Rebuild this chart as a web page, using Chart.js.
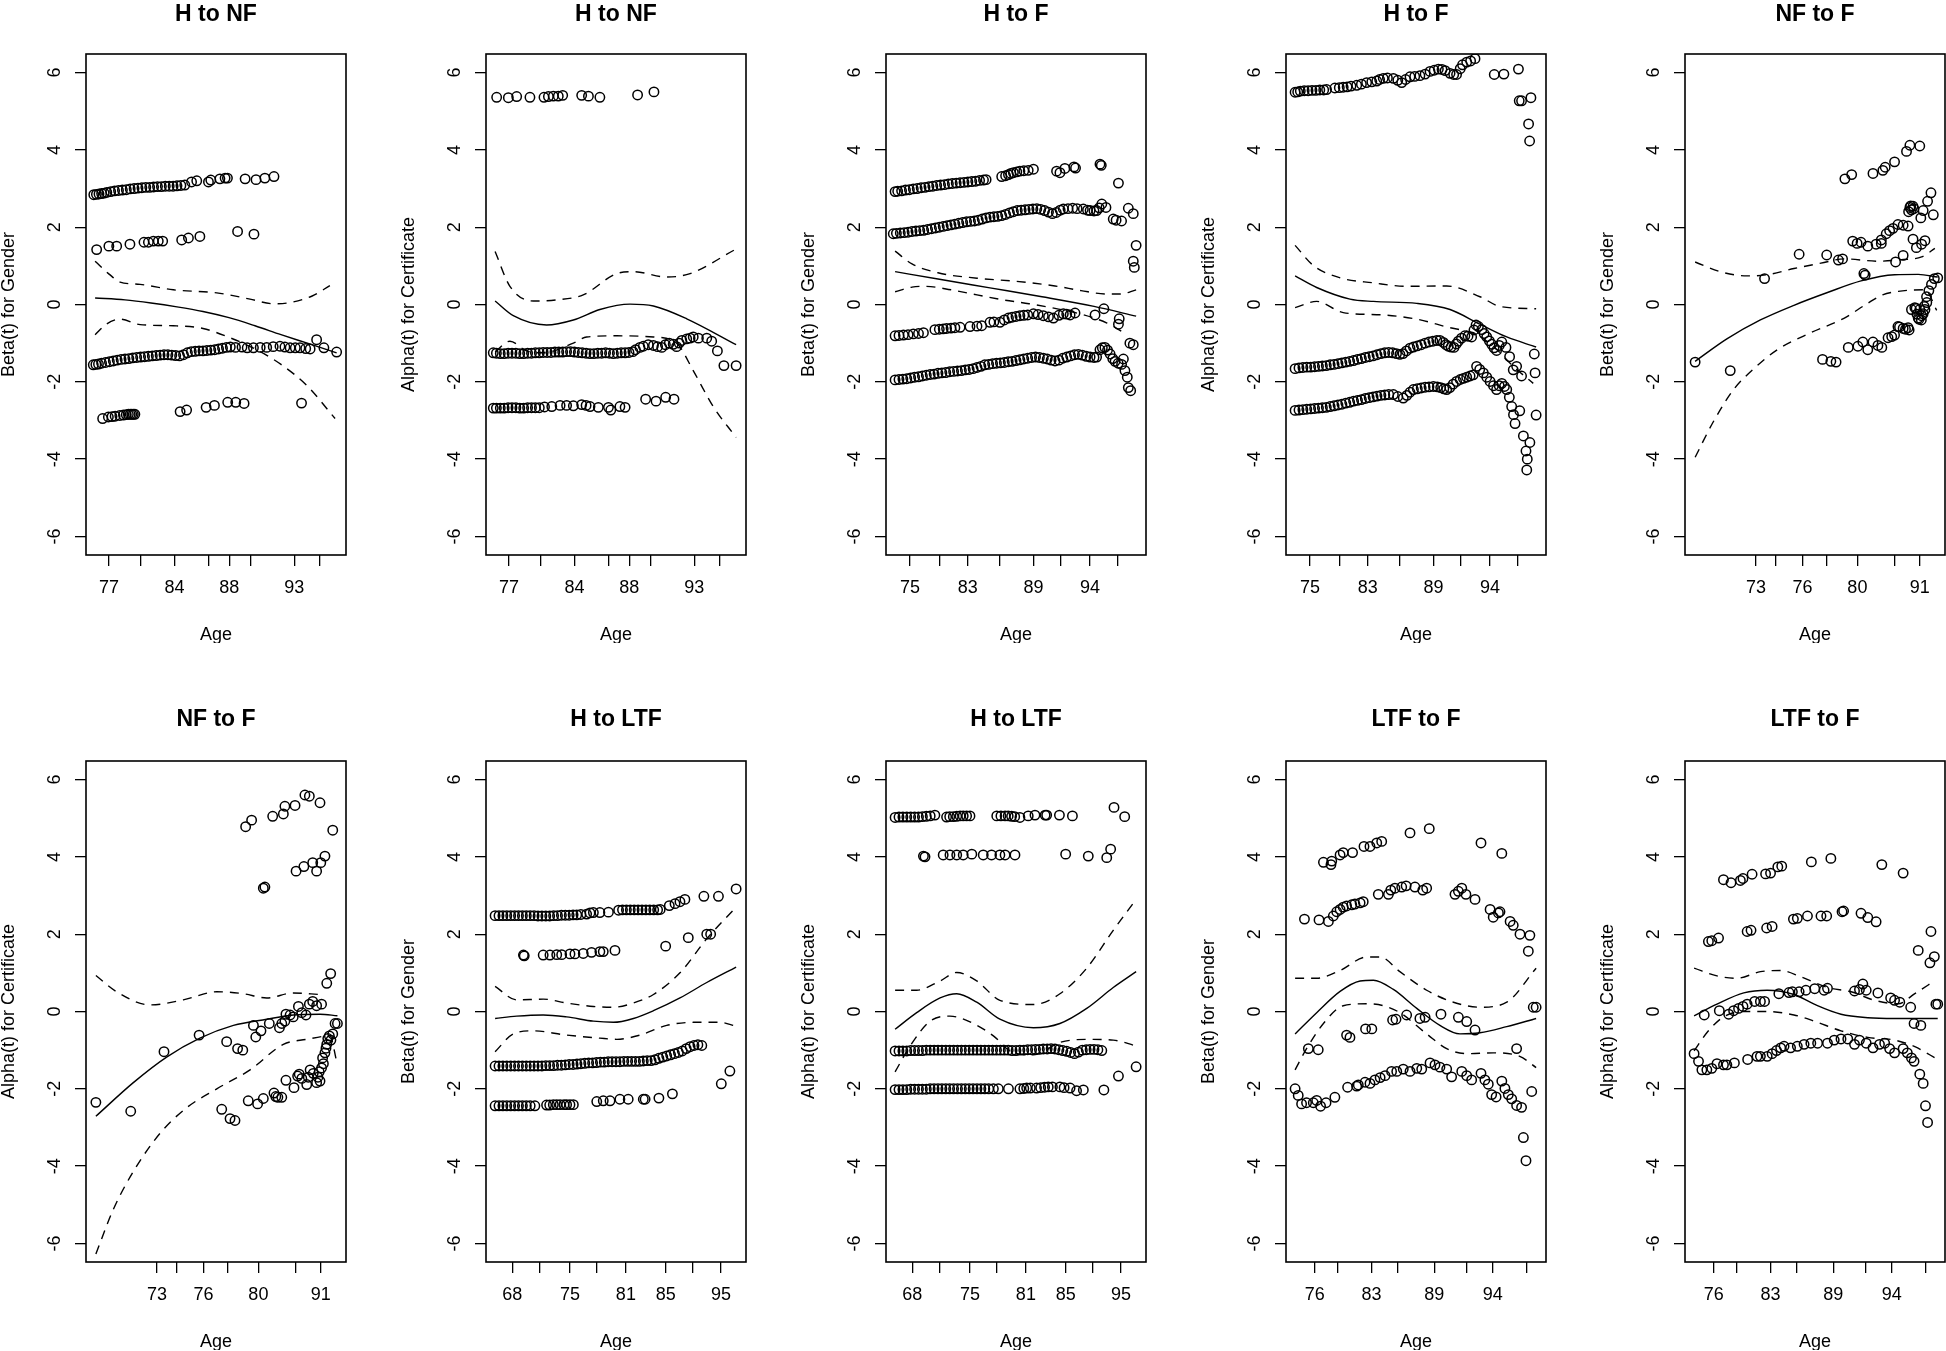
<!DOCTYPE html>
<html>
<head>
<meta charset="utf-8">
<script src="https://cdn.jsdelivr.net/npm/chart.js@4.4.1/dist/chart.umd.min.js"></script>
<style>
  html, body { margin: 0; padding: 0; background: #fff; }
  body { width: 1946px; height: 1351px; overflow: hidden; position: relative; }
  canvas { position: absolute; }
</style>
</head>
<body>
<script>
// x values are positions on the transformed time axis, 0..100 across the plot box
const yTicks = [-6, -4, -2, 0, 2, 4, 6];

const hnfTickPos = [8.85, 21.0, 34.0, 47.1, 55.1, 63.5, 80.1, 89.7];
const hnfTickLab = ["77", "", "84", "", "88", "", "93", ""];
const hfTickPos = [9.2, 20.8, 31.4, 43.8, 56.7, 67.3, 78.5, 89.1];
const hfTickLab = ["75", "", "83", "", "89", "", "94", ""];
const nffTickPos = [27.3, 35.0, 45.2, 54.6, 66.3, 80.5, 90.3];
const nffTickLab = ["73", "", "76", "", "80", "", "91"];
const hltfTickPos = [10.1, 20.8, 32.3, 42.6, 53.8, 69.1, 79.4, 90.4];
const hltfTickLab = ["68", "", "75", "", "81", "85", "", "95"];
const ltffTickPos = [11.1, 19.7, 32.9, 43.1, 57.0, 69.6, 79.5, 92.7];
const ltffTickLab = ["76", "", "83", "", "89", "", "94", ""];

// H to NF, gender
const hnfGenderPts = [
  [3.0,2.84],[4.0,2.85],[5.0,2.86],[6.0,2.87],[7.0,2.88],[8.0,2.9],[9.5,2.92],[11,2.94],[12.5,2.95],[14,2.96],
  [15.5,2.97],[17,2.99],[18.5,3.0],[20,3.01],[21.5,3.02],[23,3.03],[24.5,3.03],[26,3.04],[27.5,3.05],[29,3.05],
  [30.5,3.06],[32,3.06],[33.5,3.06],[35,3.07],[36.5,3.08],[38,3.09],[40.6,3.17],[42.6,3.2],[47.1,3.17],[48,3.22],
  [51.5,3.25],[53.5,3.27],[54.4,3.27],[61.2,3.25],[65.4,3.23],[68.8,3.27],[72.3,3.31],
  [4.1,1.42],[8.8,1.51],[11.8,1.51],[16.9,1.56],[22.3,1.61],[24,1.61],[25.9,1.64],[27.8,1.64],[29.5,1.64],
  [36.8,1.67],[39.4,1.72],[43.8,1.76],[58.3,1.89],[64.6,1.82],
  [2.8,-1.56],[3.8,-1.55],[4.8,-1.54],[6,-1.52],[7.5,-1.5],[9,-1.48],[10.5,-1.46],[12,-1.44],[13.5,-1.42],[15,-1.41],
  [16.5,-1.4],[18,-1.38],[19.5,-1.37],[21,-1.36],[22.5,-1.35],[24,-1.34],[25.5,-1.33],[27,-1.32],[28.5,-1.31],[30,-1.3],
  [31.5,-1.3],[33,-1.31],[34.5,-1.32],[36,-1.33],[37.5,-1.3],[39,-1.25],[40.5,-1.22],[42,-1.21],[43.5,-1.2],[45,-1.2],
  [46.5,-1.19],[48,-1.18],[49.5,-1.17],[51,-1.15],[52.5,-1.13],[54,-1.11],[55.5,-1.1],[57.5,-1.11],[60,-1.1],[62,-1.12],
  [64.4,-1.12],[67,-1.11],[69.5,-1.11],[72,-1.09],[74.6,-1.08],[76.5,-1.1],[78.5,-1.12],[80.5,-1.12],[82.3,-1.12],
  [84.5,-1.14],[86.2,-1.15],[88.7,-0.91],[91.5,-1.12],[96.4,-1.23],
  [6.4,-2.95],[8.6,-2.91],[10,-2.9],[11.2,-2.89],[13,-2.87],[14.4,-2.86],[15.5,-2.85],[16.3,-2.84],[17,-2.84],
  [17.6,-2.84],[18.2,-2.84],[18.8,-2.84],[36.2,-2.77],[38.7,-2.73],[46.2,-2.66],[49.4,-2.61],[54.5,-2.53],
  [57.6,-2.53],[60.8,-2.56],[82.9,-2.55]
];
const hnfGenderFit = [[3.5,0.17],[15,0.12],[25,0.04],[35,-0.06],[45,-0.18],[55,-0.34],[65,-0.55],[75,-0.78],[86,-1.02],[96.4,-1.25]];
const hnfGenderUp = [[3.5,1.12],[9,0.78],[13.1,0.58],[20.8,0.52],[33.6,0.38],[50.3,0.3],[63.1,0.14],[72,0.02],[78.5,0.05],[87,0.22],[93.8,0.49]];
const hnfGenderLo = [[3.5,-0.78],[8,-0.5],[13.1,-0.38],[20.8,-0.52],[33.6,-0.55],[45,-0.62],[55,-0.85],[65,-1.15],[75,-1.55],[85,-2.1],[95.8,-2.95]];

// H to NF, certificate
const hnfCertPts = [
  [4.1,5.36],[8.6,5.35],[11.8,5.38],[16.9,5.36],[22.3,5.36],[24,5.38],[25.9,5.39],[27.8,5.39],[29.5,5.41],
  [36.8,5.41],[39.4,5.39],[43.8,5.36],[58.3,5.42],[64.6,5.5],
  [2.8,-1.25],[4,-1.26],[5.5,-1.27],[7,-1.27],[8.5,-1.26],[10,-1.26],[11.5,-1.26],[13,-1.27],[14.5,-1.27],[16,-1.26],
  [17.5,-1.26],[19,-1.25],[20.5,-1.25],[22,-1.24],[23.5,-1.24],[25,-1.24],[26.5,-1.23],[28,-1.23],[29.5,-1.23],[31,-1.22],
  [32.5,-1.22],[34,-1.23],[35.5,-1.24],[37,-1.25],[38.5,-1.26],[40,-1.27],[41.5,-1.27],[43,-1.26],[44.5,-1.26],[46,-1.25],
  [47.5,-1.26],[49,-1.27],[50.5,-1.26],[52,-1.25],[53.5,-1.25],[55,-1.24],[56.5,-1.22],[57.5,-1.17],[59.2,-1.11],
  [60.5,-1.08],[62.4,-1.04],[64.4,-1.06],[66,-1.09],[67.6,-1.11],[69,-1.04],[70.5,-1.0],[72,-1.03],[73.3,-1.09],
  [74.3,-1.0],[75.3,-0.93],[77.2,-0.89],[78.5,-0.87],[79.7,-0.84],[81.7,-0.87],[84.9,-0.87],[86.8,-0.95],[89,-1.2],
  [91.5,-1.58],[96.2,-1.58],
  [2.8,-2.68],[4,-2.68],[5.5,-2.68],[7,-2.68],[8.5,-2.67],[10,-2.67],[11.5,-2.67],[13,-2.68],[14.5,-2.68],[16,-2.67],
  [17.5,-2.67],[19,-2.67],[20.5,-2.67],[22.5,-2.65],[25.3,-2.64],[28.5,-2.61],[31,-2.61],[33.6,-2.62],[36.8,-2.59],
  [38.5,-2.61],[40,-2.64],[43.2,-2.66],[47.1,-2.66],[48,-2.73],[51.5,-2.64],[53.5,-2.66],[61.4,-2.45],[65.4,-2.5],
  [69.1,-2.4],[72.3,-2.45]
];
const hnfCertFit = [[3.5,0.09],[10.5,-0.29],[23.3,-0.53],[33.6,-0.4],[43.8,-0.13],[55.4,0.01],[64.4,-0.04],[77.2,-0.37],[96.2,-1.04]];
const hnfCertUp = [[3.5,1.37],[9.2,0.47],[18.2,0.09],[27.2,0.12],[37.4,0.25],[50.3,0.8],[56.7,0.85],[69.5,0.71],[78.5,0.8],[95.8,1.42]];
const hnfCertLo = [[3.5,-1.22],[9.2,-0.95],[15.6,-1.2],[22,-1.25],[33.6,-1.0],[38.7,-0.84],[50.3,-0.81],[64.4,-0.84],[73.3,-1.0],[79.7,-1.71],[87.4,-2.64],[96.2,-3.44]];

// H to F, gender
const hfGenderPts = [
  [3.5,2.92],[4.5,2.93],[6,2.94],[7.5,2.96],[9,2.97],[10.5,2.99],[12,3.0],[13.5,3.02],[15,3.03],[16.5,3.05],[18,3.06],
  [19.5,3.08],[21,3.09],[22.5,3.1],[24,3.12],[25.5,3.13],[27,3.14],[28.5,3.15],[30,3.16],[31.5,3.17],[33,3.18],[34.5,3.19],
  [36,3.21],[37.5,3.22],[38.5,3.23],[44.5,3.31],[46,3.33],[47.1,3.36],[48,3.39],[49,3.41],[50.3,3.43],[51.5,3.45],[53,3.46],
  [54.7,3.47],[56.7,3.5],[65.6,3.45],[66.9,3.41],[68.8,3.52],[72.3,3.56],[72.9,3.53],[82.3,3.63],[82.8,3.6],[89.4,3.14],
  [93.2,2.49],[95.1,2.35],[96.2,1.53],[95.1,1.12],[95.5,0.96],
  [2.8,1.83],[4,1.84],[5.5,1.85],[7,1.86],[8.5,1.87],[10,1.89],[11.5,1.9],[13,1.91],[14.5,1.92],[16,1.94],[17.5,1.96],
  [19,1.98],[20.5,2.0],[22,2.02],[23.5,2.04],[25,2.06],[26.5,2.08],[28,2.1],[29.5,2.12],[31,2.14],[32.5,2.15],[34,2.16],
  [35.5,2.18],[37,2.21],[38.5,2.24],[40,2.26],[41.5,2.27],[43,2.28],[44.5,2.3],[46,2.33],[47.5,2.37],[49,2.4],[50.5,2.43],
  [52,2.44],[53.5,2.45],[55,2.46],[56.5,2.47],[58,2.48],[59.5,2.46],[61,2.43],[62.5,2.39],[64,2.35],[65.5,2.38],[67,2.44],
  [68.2,2.47],[70,2.48],[71.8,2.49],[73.5,2.48],[75.9,2.47],[77.5,2.44],[78.5,2.43],[80,2.42],[81,2.43],[82,2.5],[83,2.6],
  [84.6,2.51],[87.4,2.21],[88.5,2.18],[90.6,2.16],
  [3.5,-0.81],[5,-0.8],[6.7,-0.79],[8.5,-0.78],[10.5,-0.76],[12.5,-0.75],[14.4,-0.73],[18.8,-0.65],[20.5,-0.64],[22,-0.63],
  [23.3,-0.62],[25,-0.61],[26.5,-0.6],[28.5,-0.59],[32.3,-0.57],[35,-0.56],[36.8,-0.55],[40,-0.46],[41.5,-0.45],[43.8,-0.46],
  [45.5,-0.4],[47.1,-0.35],[48.5,-0.33],[50,-0.31],[51.5,-0.29],[53,-0.28],[54.5,-0.27],[56.7,-0.24],[58.5,-0.26],
  [60.5,-0.29],[62.5,-0.32],[64.4,-0.35],[66.5,-0.28],[68.2,-0.24],[69.5,-0.25],[70.8,-0.27],[72.7,-0.22],[80.4,-0.27],
  [83.8,-0.11],[89.7,-0.37],[89.4,-0.51],[93.8,-1.0],[95.1,-1.04],
  [3.5,-1.95],[5,-1.94],[6.5,-1.93],[8,-1.92],[9.5,-1.9],[11,-1.88],[12.5,-1.87],[14,-1.85],[15.5,-1.83],[17,-1.81],
  [18.5,-1.8],[20,-1.78],[21.5,-1.77],[23,-1.76],[24.5,-1.74],[26,-1.73],[27.5,-1.72],[29,-1.71],[30.5,-1.69],[32,-1.68],
  [33.5,-1.66],[35,-1.63],[36.5,-1.6],[38,-1.56],[39.5,-1.55],[41,-1.53],[42.5,-1.52],[44,-1.51],[45.5,-1.5],[47,-1.48],
  [48.5,-1.47],[50,-1.45],[51.5,-1.43],[53,-1.41],[54.5,-1.39],[56,-1.37],[57.5,-1.36],[59,-1.37],[60.5,-1.39],[62,-1.41],
  [63.5,-1.44],[65,-1.46],[66.5,-1.44],[68,-1.39],[69.5,-1.36],[71,-1.33],[72.5,-1.3],[74,-1.29],[75.5,-1.31],[77,-1.34],
  [78.5,-1.36],[80,-1.37],[81,-1.36],[82.3,-1.17],[83.2,-1.12],[84.2,-1.11],[85.2,-1.18],[86.2,-1.28],[87.2,-1.4],
  [88.1,-1.47],[89.3,-1.52],[90.6,-1.55],[91.3,-1.41],[91.9,-1.71],[92.8,-1.88],[93.2,-2.15],[94.1,-2.23]
];
const hfGenderFit = [[3.5,0.85],[20,0.66],[40,0.43],[60,0.2],[80,-0.05],[96.2,-0.3]];
const hfGenderUp = [[3.5,1.38],[10,1.05],[20,0.82],[35,0.68],[50,0.6],[65,0.48],[75,0.36],[85,0.27],[90,0.27],[96.2,0.38]];
const hfGenderLo = [[3.5,0.33],[10,0.45],[15,0.47],[25,0.38],[35,0.25],[45,0.12],[55,0.02],[65,-0.1],[75,-0.25],[85,-0.48],[92,-0.75]];

// H to F, certificate
const hfCertPts = [
  [3.5,5.49],[4.5,5.5],[5.5,5.52],[7,5.53],[8.5,5.53],[10,5.54],[11.5,5.54],[13,5.55],[14.5,5.55],[15.6,5.56],[18.8,5.6],
  [20.5,5.61],[22,5.62],[23.5,5.63],[25,5.65],[27.2,5.67],[29,5.7],[31,5.74],[33,5.76],[34.9,5.78],[36,5.82],[37.4,5.85],
  [39,5.86],[41.3,5.85],[43,5.8],[44.5,5.74],[46,5.82],[47.7,5.89],[49.5,5.9],[51.5,5.92],[53.5,5.96],[55.4,6.03],[57,6.06],
  [58.6,6.09],[60,6.08],[61.2,6.05],[63.1,5.98],[64.5,5.95],[65.6,5.95],[67,6.1],[67.9,6.2],[69.5,6.27],[71,6.3],[72.7,6.36],
  [80.1,5.95],[83.8,5.96],[89.4,6.09],[89.7,5.27],[90.6,5.27],[94.2,5.35],[93.3,4.67],[93.7,4.23],
  [3.5,-1.66],[5,-1.64],[6.5,-1.63],[8,-1.62],[9.5,-1.62],[11,-1.61],[12.5,-1.6],[14,-1.59],[15.5,-1.58],[17,-1.56],
  [18.5,-1.55],[20,-1.53],[21.5,-1.51],[23,-1.49],[24.5,-1.47],[26,-1.45],[27.5,-1.42],[29,-1.4],[30.5,-1.37],[32,-1.35],
  [33.5,-1.33],[35,-1.3],[36.5,-1.27],[38,-1.25],[39.5,-1.24],[41,-1.25],[42.5,-1.27],[43.8,-1.29],[45,-1.27],[46.3,-1.2],
  [47.7,-1.13],[49,-1.1],[50.5,-1.07],[52,-1.04],[53.5,-1.0],[55,-0.97],[56.5,-0.95],[58,-0.93],[59.2,-0.93],[60.5,-0.98],
  [61.5,-1.04],[62.4,-1.08],[63.5,-1.1],[64.6,-1.11],[65.5,-1.02],[66.3,-0.95],[67.5,-0.87],[68.8,-0.81],[70,-0.82],
  [71.4,-0.84],[72.3,-0.66],[73.1,-0.53],[74,-0.57],[75.3,-0.65],[76.2,-0.75],[77.2,-0.84],[78.2,-0.94],[79.1,-1.03],
  [80,-1.12],[81,-1.19],[82,-1.06],[83,-0.97],[84.6,-1.11],[86,-1.35],[87.4,-1.69],[88.7,-1.6],[90.6,-1.85],[95.8,-1.77],
  [95.5,-1.28],
  [3.5,-2.74],[5,-2.73],[6.5,-2.72],[8,-2.71],[9.5,-2.7],[11,-2.69],[12.5,-2.68],[14,-2.67],[15.5,-2.66],[17,-2.64],
  [18.5,-2.62],[20,-2.6],[21.5,-2.58],[23,-2.55],[24.5,-2.53],[26,-2.5],[27.5,-2.48],[29,-2.46],[30.5,-2.43],[32,-2.41],
  [33.5,-2.39],[35,-2.37],[36.5,-2.35],[38,-2.34],[39.5,-2.33],[41.3,-2.33],[43,-2.38],[45.1,-2.42],[46.5,-2.35],
  [47.7,-2.27],[49,-2.2],[50.5,-2.18],[52,-2.16],[53.5,-2.14],[55,-2.13],[56.7,-2.12],[58.2,-2.13],[59.5,-2.15],
  [60.7,-2.18],[61.8,-2.2],[63,-2.15],[64.3,-2.06],[65.6,-1.99],[67,-1.94],[68.2,-1.91],[69.5,-1.88],[70.8,-1.85],
  [72,-1.82],[73.3,-1.6],[74.5,-1.68],[75.9,-1.77],[77.2,-1.88],[78.5,-1.99],[79.8,-2.1],[81,-2.2],[82,-2.1],[83,-2.04],
  [84,-2.12],[84.9,-2.2],[85.9,-2.4],[86.8,-2.64],[87.5,-2.85],[88.1,-3.08],[89.9,-2.75],[91.3,-3.4],[92.3,-3.79],
  [92.6,-4.28],[92.8,-4.0],[93.8,-3.57],[96.2,-2.86]
];
const hfCertFit = [[3.5,0.74],[11.8,0.44],[24.6,0.14],[33.6,0.08],[50.3,0.03],[63.1,-0.13],[74.6,-0.51],[84.9,-0.84],[96.2,-1.1]];
const hfCertUp = [[3.5,1.53],[10.5,1.01],[20.8,0.69],[33.6,0.56],[46.4,0.47],[61.8,0.48],[74.6,0.2],[82.3,-0.05],[96.2,-0.11]];
const hfCertLo = [[3.5,-0.08],[11.8,0.08],[22,-0.21],[37.4,-0.27],[50.3,-0.38],[61.8,-0.58],[73.3,-0.78],[80,-1.1],[87.4,-1.6],[95.1,-2.04]];

// NF to F, gender
const nffGenderPts = [
  [3.9,-1.49],[17.4,-1.71],[30.6,0.67],[43.9,1.3],[52.9,-1.42],[54.5,1.28],[56.1,-1.47],[58.1,-1.49],[59,1.15],[60.6,1.18],
  [61.5,3.25],[62.8,-1.11],[64.1,3.36],[64.5,1.64],[66.2,1.58],[66.5,-1.08],[67.7,1.61],[68.4,-0.97],[68.8,0.8],[69.3,0.76],
  [70.3,1.51],[70.3,-1.17],[72.3,3.39],[72.3,-0.97],[73.5,1.56],[74.2,-1.06],[75.5,1.58],[75.5,1.67],[75.7,-1.11],[76.1,3.47],
  [77,3.55],[77.4,1.83],[78.1,-0.86],[78.7,1.91],[79.5,-0.83],[80,1.97],[80.6,3.69],[80.6,-0.79],[81,1.1],[81.9,2.07],
  [81.9,-0.57],[82.5,-0.58],[83.9,1.27],[83.9,2.05],[83.9,-0.62],[84.8,-0.64],[85.2,3.96],[85.8,2.03],[85.8,-0.6],[86.2,-0.66],
  [86,2.4],[86.5,4.12],[86.5,2.51],[86.8,2.55],[87.1,2.45],[87.1,-0.13],[87.7,2.54],[87.7,1.69],[88,2.48],[88.4,-0.08],
  [88.9,-0.1],[89,1.47],[89.2,-0.25],[89.7,-0.35],[90,-0.38],[90.3,4.1],[90.3,-0.13],[90.7,2.24],[90.9,-0.4],[91,1.56],
  [91,-0.29],[91.6,2.43],[91.6,-0.24],[92,-0.05],[92.3,1.65],[92.3,-0.13],[92.9,0.2],[93,0.05],[93.3,2.67],[93.8,0.36],
  [94.6,2.89],[94.8,0.52],[95.5,2.32],[95.9,0.67],[97.2,0.69]
];
const nffGenderFit = [[3.9,-1.47],[16.1,-0.89],[29,-0.4],[41.9,-0.02],[54.8,0.31],[67.7,0.61],[80.6,0.77],[89.7,0.78],[97.2,0.71]];
const nffGenderUp = [[3.9,1.1],[13.5,0.85],[23.9,0.74],[31.6,0.77],[41.9,0.93],[52.3,1.07],[61.3,1.18],[74.2,1.12],[83.2,1.16],[91,1.23],[96.1,1.45]];
const nffGenderLo = [[3.9,-3.95],[11,-3.02],[18.7,-2.2],[26.5,-1.66],[35.5,-1.17],[48.4,-0.73],[61.3,-0.35],[70,0.02],[76,0.25],[82,0.34],[92.3,0.38],[96.8,-0.15]];

// NF to F, certificate
const nffCertPts = [
  [3.8,-2.35],[17.2,-2.58],[30,-1.04],[43.5,-0.61],[52.2,-2.53],[54.1,-0.78],[55.4,-2.77],[57.3,-2.82],[58.3,-0.96],
  [60.3,-1.0],[61.4,4.78],[62.4,-2.31],[63.7,4.95],[64.4,-0.36],[65.3,-0.66],[66,-2.39],[67.3,-0.5],[68.2,3.19],[68.8,3.22],
  [68.2,-2.25],[70.5,-0.31],[71.8,5.05],[72.3,-2.11],[73,-2.2],[73.8,-2.22],[74.4,-0.42],[75.3,-2.22],[75.3,-0.31],
  [75.9,5.11],[76.5,5.31],[76.5,-0.25],[76.9,-0.07],[76.9,-1.78],[78.5,-0.09],[79.7,-0.14],[80,-1.97],[80.4,5.33],
  [80.8,3.63],[81.4,-1.67],[81.7,0.13],[82,-1.62],[83,-0.03],[83,-1.73],[83.8,3.75],[84.2,5.6],[84.6,-0.09],[84.9,-1.89],
  [85.5,-1.7],[85.9,5.57],[85.9,0.19],[86.2,-1.51],[87.2,3.85],[87.2,0.26],[87.4,-1.6],[88.7,3.63],[88.7,0.15],[88.7,-1.84],
  [89.2,-1.7],[89.7,-1.56],[90,5.4],[90,-1.8],[90.3,3.85],[90.6,0.19],[90.6,-1.46],[91,-1.2],[91.3,-1.35],[91.9,4.02],
  [91.9,-1.07],[92.3,-0.95],[92.6,0.73],[92.6,-0.85],[93,-0.7],[93.6,-0.63],[94.1,0.98],[94.2,-0.74],[94.9,4.69],
  [94.9,-0.58],[95.8,-0.31],[96.7,-0.31]
];
const nffCertFit = [[3.8,-2.71],[18.2,-1.84],[31,-1.18],[43.8,-0.69],[56.7,-0.36],[69.5,-0.2],[79.7,-0.09],[90,-0.07],[96.7,-0.11]];
const nffCertUp = [[3.8,0.93],[11.8,0.51],[24.6,0.17],[37.4,0.3],[50.3,0.51],[60.5,0.46],[69.5,0.35],[79.7,0.48],[90,0.44]];
const nffCertLo = [[3.8,-6.27],[10.5,-5.12],[18.2,-4.14],[28.5,-3.15],[38.7,-2.49],[50.3,-2.0],[63.1,-1.51],[75.9,-0.85],[84.9,-0.72],[93.8,-0.63],[96.4,-1.29]];

// H to LTF, gender
const hltfGenderPts = [
  [3.5,2.48],[5,2.48],[6.5,2.48],[8,2.48],[9.5,2.48],[11,2.48],[12.5,2.48],[14,2.48],[15.5,2.48],[17,2.48],[18.5,2.48],
  [20,2.47],[21.5,2.47],[23,2.47],[24.5,2.47],[26,2.48],[27.5,2.48],[29,2.49],[30.5,2.49],[32,2.49],[33.5,2.5],[34.9,2.5],
  [36.5,2.51],[38.7,2.52],[40,2.55],[41.3,2.56],[43.8,2.56],[47.1,2.57],[51,2.62],[52.5,2.63],[54,2.63],[55.5,2.63],
  [57,2.63],[58.5,2.63],[60,2.63],[61.5,2.63],[63,2.63],[64.5,2.63],[66,2.63],[67,2.64],[70.5,2.74],[72.7,2.79],[74.6,2.84],
  [76.5,2.9],[83.8,2.98],[89.4,2.98],[96.2,3.17],
  [14.4,1.46],[14.7,1.44],[22,1.46],[24.6,1.46],[27.2,1.47],[29.1,1.47],[32.3,1.49],[34.2,1.49],[37.4,1.5],[40.6,1.53],
  [43.8,1.55],[45.1,1.55],[49.6,1.58],[69.1,1.69],[77.8,1.91],[84.9,2.0],[86.4,2.0],
  [3.5,-1.41],[5,-1.41],[6.5,-1.41],[8,-1.41],[9.5,-1.41],[11,-1.41],[12.5,-1.41],[14,-1.41],[15.5,-1.41],[17,-1.41],
  [18.5,-1.41],[20,-1.41],[21.5,-1.41],[23,-1.4],[24.5,-1.4],[26,-1.4],[27.5,-1.39],[29,-1.39],[30.5,-1.38],[32,-1.37],
  [33.5,-1.37],[35,-1.36],[36.5,-1.35],[38,-1.34],[39.5,-1.33],[41,-1.33],[42.5,-1.32],[44,-1.31],[45.5,-1.31],[47,-1.3],
  [48.5,-1.3],[50,-1.3],[51.5,-1.3],[53,-1.29],[54.5,-1.29],[56,-1.29],[57.5,-1.29],[59,-1.29],[60.5,-1.28],[62,-1.27],
  [63.5,-1.27],[65,-1.25],[66.5,-1.21],[68,-1.18],[69.5,-1.15],[71,-1.12],[72.5,-1.09],[74,-1.06],[75.5,-1.02],[77,-0.96],
  [78.5,-0.91],[80,-0.88],[81.5,-0.86],[83,-0.88],
  [3.5,-2.44],[5,-2.44],[6.5,-2.44],[8,-2.44],[9.5,-2.44],[11,-2.44],[12.5,-2.44],[14,-2.44],[15.5,-2.44],[17,-2.44],
  [18.8,-2.44],[23.3,-2.42],[24.5,-2.42],[25.9,-2.41],[27.2,-2.41],[28.5,-2.41],[30,-2.41],[31,-2.41],[32.3,-2.41],
  [33.6,-2.41],[42.6,-2.33],[45.1,-2.31],[47.7,-2.31],[51.5,-2.27],[54.7,-2.27],[60.5,-2.27],[61.2,-2.27],[66.5,-2.24],
  [71.7,-2.13],[90.5,-1.87],[93.8,-1.54]
];
const hltfGenderFit = [[3.5,-0.18],[11.8,-0.12],[22,-0.09],[31,-0.14],[41.3,-0.25],[49,-0.28],[56.7,-0.18],[64.4,0.02],[74.6,0.35],[84.9,0.75],[96.2,1.15]];
const hltfGenderUp = [[3.5,0.65],[11.8,0.3],[22,0.32],[31,0.22],[41.3,0.13],[49,0.11],[56.7,0.22],[64.4,0.44],[74.6,1.0],[84.9,1.88],[96.2,2.7]];
const hltfGenderLo = [[3.5,-1.04],[10.5,-0.58],[18.2,-0.5],[31,-0.61],[43.8,-0.69],[50.3,-0.72],[59.2,-0.61],[69.5,-0.36],[79.7,-0.28],[89.9,-0.28],[96.2,-0.38]];

// H to LTF, certificate
const hltfCertPts = [
  [3.5,5.02],[5,5.03],[6.5,5.03],[8,5.03],[9.5,5.03],[11,5.03],[12.5,5.03],[14,5.04],[15.5,5.05],[17,5.06],[18.8,5.08],
  [23.3,5.03],[24.5,5.04],[25.9,5.04],[27.2,5.05],[28.5,5.06],[29.7,5.06],[31,5.06],[32.3,5.06],[42.6,5.06],[44.2,5.06],
  [45.8,5.06],[47,5.06],[48.3,5.05],[49.5,5.04],[51.5,5.02],[54.7,5.06],[57.3,5.08],[61.2,5.08],[61.8,5.08],[66.7,5.08],
  [71.7,5.06],[87.7,5.28],[91.8,5.04],
  [14.4,4.02],[15,4.0],[22,4.05],[24.6,4.05],[27.2,4.05],[29.7,4.05],[33,4.07],[37.4,4.05],[40.6,4.05],[43.8,4.05],
  [45.8,4.05],[49.6,4.05],[69.1,4.07],[77.8,4.02],[84.9,3.98],[86.4,4.2],
  [3.5,-1.02],[5,-1.02],[6.5,-1.02],[8,-1.02],[9.5,-1.01],[11,-1.01],[12.5,-1.01],[14,-1.01],[15.5,-1.0],[17,-1.0],
  [18.5,-1.0],[20,-1.0],[21.5,-1.0],[23,-1.0],[24.5,-1.0],[26,-1.0],[27.5,-1.0],[29,-1.0],[30.5,-1.0],[32,-1.0],[33.5,-1.0],
  [35,-1.0],[36.5,-1.0],[38,-1.0],[39.5,-1.0],[41,-1.0],[42.5,-1.0],[44,-1.0],[45.5,-1.0],[47,-1.0],[48.5,-1.01],[50,-1.01],
  [51.5,-1.0],[53,-1.0],[54.5,-0.99],[56,-0.99],[57.5,-0.98],[59,-0.98],[60.5,-0.97],[62,-0.97],[63.5,-0.96],[65,-0.97],
  [66.5,-0.99],[68,-1.01],[69.5,-1.03],[71,-1.06],[72.5,-1.09],[74,-1.05],[75.5,-1.0],[77,-0.99],[78.5,-0.98],[80,-0.98],
  [81.5,-0.99],[83,-1.01],
  [3.5,-2.02],[5,-2.02],[6.5,-2.02],[8,-2.02],[9.5,-2.01],[11,-2.01],[12.5,-2.01],[14,-2.01],[15.5,-2.01],[17,-2.0],
  [18.5,-2.0],[20,-2.0],[21.5,-2.0],[23,-2.0],[24.5,-2.0],[26,-2.0],[27.5,-2.0],[29,-2.0],[30.5,-2.0],[32,-2.0],[33.5,-2.0],
  [35,-2.0],[36.5,-2.0],[38,-2.0],[39.5,-2.0],[41.3,-2.0],[43.2,-2.0],[47.1,-2.0],[51.5,-2.0],[53,-1.99],[54.1,-1.98],
  [55.5,-1.98],[57.9,-1.98],[59.5,-1.97],[61,-1.96],[62.4,-1.95],[64,-1.95],[66.9,-1.95],[68.5,-1.97],[70.8,-1.98],
  [73.3,-2.05],[75.9,-2.03],[83.8,-2.03],[89.4,-1.67],[96.2,-1.43]
];
const hltfCertFit = [[3.5,-0.46],[11.8,-0.03],[20.8,0.35],[27.2,0.46],[34.9,0.24],[43.8,-0.2],[56.7,-0.42],[66.9,-0.31],[77.2,0.08],[87.4,0.62],[96.2,1.03]];
const hltfCertUp = [[3.5,0.55],[11.8,0.55],[20.8,0.79],[27.2,1.01],[34.9,0.79],[43.8,0.29],[56.7,0.18],[66.9,0.46],[77.2,1.12],[87.4,2.1],[96.2,2.9]];
const hltfCertLo = [[3.5,-1.56],[9.2,-0.9],[17,-0.25],[24.6,-0.12],[33.6,-0.31],[41.3,-0.63],[49,-1.07],[56.7,-1.12],[66.9,-0.8],[77.2,-0.72],[87.4,-0.74],[96.2,-0.89]];

// LTF to F, gender
const ltffGenderPts = [
  [3.5,-2.0],[4.7,-2.17],[6,-2.39],[7.9,-2.36],[10.5,-2.36],[11.8,-2.3],[13.3,-2.45],[15.4,-2.36],[18.8,-2.22],
  [7.1,2.39],[12.7,2.37],[16.3,2.33],[18.2,2.47],[19.5,2.58],[20.8,2.64],[22,2.7],[23.3,2.73],[25.3,2.76],[26.5,2.78],
  [28.5,2.81],[29.7,2.84],
  [14.4,3.86],[17.3,3.8],[17.6,3.89],[20.8,4.05],[22,4.11],[25.6,4.11],[30,4.27],[32.3,4.27],[34.9,4.36],[36.8,4.4],
  [47.7,4.62],[55.1,4.73],[75,4.36],[83,4.09],
  [35.5,3.03],[39.4,3.03],[40.3,3.14],[41.9,3.19],[44.5,3.22],[46.2,3.25],[49.6,3.22],[52.6,3.14],[54.1,3.19],[65,3.03],
  [66.3,3.11],[67.6,3.19],[69.2,3.03],[72.7,2.9],[78.5,2.64],[79.7,2.44],[81.7,2.55],[82.3,2.58],[86.2,2.33],[87.4,2.23],
  [90,2.0],[93.8,1.97],[93.2,1.56],
  [8.6,-0.96],[12.4,-0.99],[23.3,-0.61],[24.6,-0.67],[30.6,-0.45],[33,-0.45],[41,-0.22],[42.3,-0.2],[46.4,-0.09],
  [51.5,-0.18],[53.5,-0.15],[59.6,-0.07],[66.3,-0.15],[69.5,-0.26],[72.7,-0.48],[88.7,-0.96],[95.1,0.11],[96.2,0.11],
  [23.7,-1.96],[27.2,-1.93],[27.8,-1.9],[30.4,-1.83],[32.3,-1.86],[34.2,-1.77],[36.2,-1.71],[38.1,-1.66],[40.6,-1.55],
  [42.6,-1.55],[45.1,-1.49],[47.7,-1.55],[50.3,-1.47],[52.2,-1.49],[55.4,-1.33],[57.3,-1.38],[59.2,-1.44],[61.8,-1.49],
  [63.7,-1.69],[67.6,-1.55],[69.5,-1.66],[71.4,-1.77],[75,-1.6],[76.5,-1.77],[77.8,-1.88],[79.1,-2.15],[80.8,-2.21],
  [83,-1.8],[84.2,-1.99],[85.5,-2.15],[86.8,-2.26],[88.7,-2.43],[90.6,-2.48],[91.3,-3.26],[92.3,-3.86],[94.5,-2.07]
];
const ltffGenderFit = [[3.5,-0.58],[11.8,-0.03],[20.8,0.52],[28.5,0.79],[33.6,0.81],[41.3,0.57],[50.3,0.08],[59.2,-0.36],[66.9,-0.58],[74.6,-0.55],[84.9,-0.39],[96.2,-0.18]];
const ltffGenderUp = [[3.5,0.86],[11.8,0.86],[20.8,1.06],[31,1.41],[36.2,1.41],[43.8,1.03],[54.1,0.55],[64.4,0.24],[74.6,0.11],[84.9,0.24],[96.2,1.12]];
const ltffGenderLo = [[3.5,-1.51],[7.9,-0.96],[14.4,-0.31],[22,0.15],[31,0.2],[37.4,0.15],[43.8,-0.03],[54.1,-0.58],[61.8,-0.96],[69.5,-1.09],[79.7,-1.07],[89.9,-1.16],[96.2,-1.45]];

// LTF to F, certificate
const ltffCertPts = [
  [14.8,3.41],[17.7,3.33],[21.3,3.39],[22.3,3.44],[25.8,3.55],[31,3.56],[32.9,3.58],[35.7,3.74],[37.2,3.76],[48.6,3.87],
  [56.1,3.96],[75.7,3.8],[83.9,3.58],
  [9,1.81],[10.3,1.83],[12.9,1.9],[23.9,2.07],[25.4,2.1],[31.4,2.16],[33.5,2.2],[41.7,2.39],[43.2,2.41],[47.1,2.47],
  [52.3,2.47],[54.5,2.47],[60.4,2.58],[61,2.6],[67.7,2.54],[70.3,2.43],[73.5,2.32],[89.7,1.58],[94.6,2.07],[94.2,1.26],
  [95.9,1.42],
  [7.4,-0.09],[13.2,0.02],[16.8,-0.07],[18.7,0.02],[20.6,0.08],[22.3,0.13],[23.9,0.19],[26.8,0.26],[29,0.26],[30.6,0.26],
  [36.1,0.46],[40,0.49],[41.3,0.51],[43.9,0.51],[46.5,0.55],[49.9,0.59],[53.5,0.55],[54.8,0.6],[65.2,0.53],[67.1,0.57],
  [68.4,0.71],[69.7,0.55],[74.2,0.48],[79.1,0.35],[80.6,0.29],[82.6,0.24],[86.8,0.11],[88.1,-0.31],[90.7,-0.36],
  [96.5,0.19],[97.2,0.19],
  [3.5,-1.09],[5.2,-1.29],[6.5,-1.51],[8.4,-1.51],[10.3,-1.47],[12.3,-1.35],[14.8,-1.38],[16.1,-1.38],[19,-1.33],
  [24.1,-1.24],[27.7,-1.16],[29,-1.16],[31.6,-1.16],[33.5,-1.09],[35.2,-1.01],[36.8,-0.94],[38.1,-0.9],[40.6,-0.94],
  [43.2,-0.9],[45.8,-0.85],[48.4,-0.82],[51,-0.82],[54.8,-0.82],[57.4,-0.74],[60,-0.71],[62.6,-0.71],[65.2,-0.85],
  [67.1,-0.74],[69.7,-0.82],[72.3,-0.94],[74.8,-0.85],[76.8,-0.82],[78.7,-0.96],[80.6,-1.07],[83.9,-0.96],[85.5,-1.07],
  [87.1,-1.2],[88.1,-1.29],[90.3,-1.62],[91.6,-1.86],[92.5,-2.44],[93.3,-2.87]
];
const ltffCertFit = [[3.5,-0.11],[12.3,0.19],[22.6,0.48],[31.6,0.55],[41.9,0.44],[49.7,0.19],[60,-0.07],[70.3,-0.16],[80.6,-0.18],[97.2,-0.18]];
const ltffCertUp = [[3.5,1.12],[12.3,0.92],[20,0.86],[29,1.03],[36.8,1.06],[44.5,0.9],[54.8,0.62],[63.9,0.51],[72.9,0.29],[81.9,0.2],[88.4,0.46],[95.9,0.79]];
const ltffCertLo = [[3.5,-1.02],[8.4,-0.55],[14.8,-0.14],[22.6,0.0],[31.6,0.0],[41.9,-0.09],[49.7,-0.25],[60,-0.5],[70.3,-0.67],[80.6,-0.74],[88.4,-0.91],[97.2,-1.24]];

const FONT = "'Liberation Sans', Arial, Helvetica, sans-serif";

const boxPlugin = {
  id: 'plotBox',
  afterDraw(chart) {
    const { ctx, chartArea: a } = chart;
    ctx.save();
    ctx.strokeStyle = '#000';
    ctx.lineWidth = 1.6;
    ctx.strokeRect(a.left, a.top, a.right - a.left, a.bottom - a.top);
    ctx.restore();
  }
};

function toXY(arr) {
  return arr.map(p => ({ x: p[0], y: p[1] }));
}

function curve(arr, dashed) {
  return {
    type: 'line',
    data: toXY(arr),
    borderColor: '#000',
    borderWidth: 1.4,
    borderDash: dashed ? [9, 7] : [],
    pointRadius: 0,
    fill: false,
    cubicInterpolationMode: 'monotone'
  };
}

// titleShift moves the panel title down without moving the plot box
function makePanel(left, top, width, titleShift, title, yLabel, pts, fit, up, lo, tickPos, tickLab) {
  const canvas = document.createElement('canvas');
  canvas.width = width;
  canvas.height = 646;
  canvas.style.left = left + 'px';
  canvas.style.top = top + 'px';
  document.body.appendChild(canvas);

  const tickFont = { family: FONT, size: 18 };

  new Chart(canvas, {
    type: 'scatter',
    data: {
      datasets: [
        curve(fit, false),
        curve(up, true),
        curve(lo, true),
        {
          type: 'scatter',
          data: toXY(pts),
          pointStyle: 'circle',
          pointRadius: 4.7,
          borderColor: '#000',
          backgroundColor: 'rgba(0,0,0,0)',
          borderWidth: 1.5
        }
      ]
    },
    options: {
      responsive: false,
      animation: false,
      devicePixelRatio: 1,
      layout: { padding: { left: 0, right: width - 346, top: 0, bottom: 0 } },
      plugins: {
        legend: { display: false },
        tooltip: { enabled: false },
        title: {
          display: true,
          fullSize: false,
          text: title,
          color: '#000',
          font: { family: FONT, size: 23, weight: 'bold', lineHeight: 1.2 },
          padding: { top: titleShift, bottom: 29.4 - titleShift }
        }
      },
      scales: {
        x: {
          type: 'linear',
          min: 0,
          max: 100,
          afterBuildTicks: ax => { ax.ticks = tickPos.map(v => ({ value: v })); },
          afterFit: ax => { ax.height = 88; },
          ticks: {
            autoSkip: false,
            maxRotation: 0,
            minRotation: 0,
            padding: 11,
            color: '#000',
            font: tickFont,
            callback: v => tickLab[tickPos.indexOf(v)]
          },
          grid: { drawOnChartArea: false, drawTicks: true, tickLength: 11, color: '#000', lineWidth: 1.3 },
          border: { display: false },
          title: { display: true, text: 'Age', color: '#000', font: tickFont, padding: { top: 0, bottom: -3 } }
        },
        y: {
          type: 'linear',
          min: -6.48,
          max: 6.48,
          afterBuildTicks: ax => { ax.ticks = yTicks.map(v => ({ value: v })); },
          afterFit: ax => { ax.width = 86; },
          ticks: {
            crossAlign: 'center',
            minRotation: 90,
            maxRotation: 90,
            padding: 12,
            color: '#000',
            font: tickFont
          },
          grid: { drawOnChartArea: false, drawTicks: true, tickLength: 11, color: '#000', lineWidth: 1.3 },
          border: { display: false },
          title: { display: true, text: yLabel, color: '#000', font: { family: FONT, size: 18, lineHeight: 0.95 }, padding: 0 }
        }
      }
    },
    plugins: [boxPlugin]
  });
}

const G = 'Beta(t) for Gender';
const C = 'Alpha(t) for Certificate';

makePanel(0, -3, 360, 4, 'H to NF', G, hnfGenderPts, hnfGenderFit, hnfGenderUp, hnfGenderLo, hnfTickPos, hnfTickLab);
makePanel(400, -3, 360, 4, 'H to NF', C, hnfCertPts, hnfCertFit, hnfCertUp, hnfCertLo, hnfTickPos, hnfTickLab);
makePanel(800, -3, 360, 4, 'H to F', G, hfGenderPts, hfGenderFit, hfGenderUp, hfGenderLo, hfTickPos, hfTickLab);
makePanel(1200, -3, 360, 4, 'H to F', C, hfCertPts, hfCertFit, hfCertUp, hfCertLo, hfTickPos, hfTickLab);
makePanel(1599, -3, 357, 4, 'NF to F', G, nffGenderPts, nffGenderFit, nffGenderUp, nffGenderLo, nffTickPos, nffTickLab);

makePanel(0, 704, 360, 2, 'NF to F', C, nffCertPts, nffCertFit, nffCertUp, nffCertLo, nffTickPos, nffTickLab);
makePanel(400, 704, 360, 2, 'H to LTF', G, hltfGenderPts, hltfGenderFit, hltfGenderUp, hltfGenderLo, hltfTickPos, hltfTickLab);
makePanel(800, 704, 360, 2, 'H to LTF', C, hltfCertPts, hltfCertFit, hltfCertUp, hltfCertLo, hltfTickPos, hltfTickLab);
makePanel(1200, 704, 360, 2, 'LTF to F', G, ltffGenderPts, ltffGenderFit, ltffGenderUp, ltffGenderLo, ltffTickPos, ltffTickLab);
makePanel(1599, 704, 357, 2, 'LTF to F', C, ltffCertPts, ltffCertFit, ltffCertUp, ltffCertLo, ltffTickPos, ltffTickLab);
</script>
</body>
</html>
